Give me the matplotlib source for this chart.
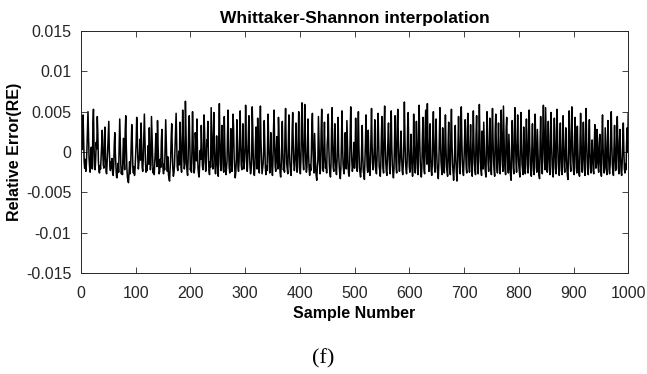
import numpy as np
import matplotlib
matplotlib.use('Agg')
import matplotlib.pyplot as plt

# relative error per sample, in units of 1e-4 (50 samples per row)
re_rows = [
    [10, 3, 18, 46, 14, -12, -20, -9, -24, -16, 2, 28, 50, 19, -8, -19, -25, -3, 6, -14, -21, 35, 53, 8, -18, -22, -10, 12, 4, 44, 22, -11, -23, -26, -17, -21, -7, 9, 27, 0, -16, -20, 14, 31, -5, -24, -27, -13, 3, 20],
    [38, 1, -17, -23, -12, -20, -8, -26, -29, -18, 9, 24, -2, -15, -30, -32, -22, -14, -25, 5, 41, 13, -16, -27, -20, -28, 0, 17, -9, -22, 26, 45, 7, -19, -31, -36, -38, -24, -12, -27, -15, 8, 34, 11, -20, -26, -18, -29, -21, -6],
    [12, 43, 25, -7, -21, -13, -3, 16, -10, 36, 6, -19, -24, -8, 21, 47, 15, -12, -25, -18, -23, -4, 8, -15, 30, -6, -22, -16, 44, 19, -9, -26, -20, -28, -14, 2, 23, -8, -18, 39, 10, -13, -27, -24, -9, -19, 13, 28, -2, -20],
    [-27, -15, -22, 7, 40, 11, -14, -24, -6, -28, -33, -36, -21, -10, 18, 35, 3, -20, -30, -26, -17, 4, 22, 48, 12, -18, -23, -11, 1, -16, 37, 15, -19, -25, 8, 52, 20, -9, -21, -14, 63, 29, -13, -24, -29, -7, 31, 45, 10, -22],
    [-18, -25, 6, 50, 17, -14, -26, -19, 24, 12, -11, 41, 3, -20, -27, -31, -15, 2, -9, 33, 9, -17, -22, -13, 46, 26, -6, -24, -18, 15, 8, 38, -4, -23, -28, -12, -19, 55, 24, -8, -21, 18, 49, 5, -17, -27, -10, 20, -8, -24],
    [-30, 22, 60, 13, -15, -23, 10, 33, -1, -20, -25, 44, 7, -18, -28, -21, -11, 25, 52, 4, -19, -26, -14, 29, -3, -24, 16, 47, 30, -6, -20, -32, -25, -10, 40, 13, -18, -24, -12, 23, 51, 9, -16, -22, -2, 35, -5, -21, -12, 7],
    [58, 17, -13, -24, -8, 22, 45, 2, -18, -27, -22, -9, 56, 30, -7, -25, -29, -16, 12, 31, -4, -21, 42, 10, -15, -26, 24, 57, 14, -11, -27, -20, -14, 4, 39, 9, -19, -28, -17, -23, 5, 47, 16, -12, -26, -18, 24, -2, -20, -29],
    [-10, 29, 52, 8, -18, -24, 3, 19, -9, -21, 43, 20, -13, -26, -31, -18, 12, 38, -1, -22, -17, -25, 29, 54, 11, -14, -20, -27, 8, 46, 2, -15, -24, -29, -11, 25, 49, 10, -13, -23, -16, 6, 36, -6, -25, -19, 14, 50, 4, -20],
    [-27, -9, 34, 61, 15, -12, -22, 9, 59, 24, -14, -25, -19, 7, 41, -2, -21, -29, -16, -23, -4, 32, 48, 6, -17, -26, 23, 1, -22, -30, -35, -18, -10, 44, 15, -15, -27, -20, 26, 53, 11, -16, -24, 3, 37, -3, -20, -13, -26, 9],
    [20, 47, 6, -17, -26, -31, -14, 28, 55, 9, -19, -24, 4, 35, -8, -22, -28, -11, 17, 43, -1, -18, -27, -33, -20, 10, 51, 12, -15, -23, -27, -6, 24, 2, -21, 39, 14, -13, -26, -30, -17, 22, 56, 15, -11, -24, -18, -5, 12, -20],
    [-4, 42, 9, -15, -24, 18, 50, 5, -19, -26, -31, -21, 8, 33, -5, -24, -28, -34, -12, 14, 46, 6, -18, -25, 27, -1, -21, -29, -15, 21, 54, 10, -14, -22, -17, 6, 40, -2, -22, -27, -10, 25, 48, 12, -18, -23, -30, -14, 19, 44],
    [3, -19, -26, 30, 57, 13, -12, -24, -29, -9, 15, 36, -4, -22, -27, 23, 51, 7, -16, -25, -32, -21, 9, 45, 3, -20, -26, 34, 53, 18, -14, -24, -12, 5, 26, -6, -23, -28, -17, 12, 62, 19, -10, -22, -27, -13, 31, 49, 5, -18],
    [-25, -11, 22, -2, -21, -30, -14, 47, 11, -16, -26, 2, 38, 4, -20, -28, 27, 58, 16, -12, -24, -31, -18, 18, 43, -3, -22, -27, 29, 52, 9, -15, 60, 17, -13, -24, 7, 35, -7, -23, -29, -16, 24, 50, 8, -17, -25, 13, 41, 2],
    [-19, -27, -33, -14, 20, 55, 12, -12, -22, -28, 30, -1, -21, -26, 8, 46, 6, -18, -24, -30, 11, 37, -5, -23, -28, 25, 53, 12, -15, -26, -35, -20, 4, 33, -8, -24, -36, -22, 9, 44, 5, -19, -27, 21, 56, 14, -13, -24, -29, -9],
    [16, 40, 2, -20, -26, 28, 48, 9, -16, -25, 6, 34, -2, -23, -30, 12, 51, 13, -14, -23, -28, 23, 45, 4, -19, -27, 18, 59, 17, -11, -22, -29, 26, -1, -21, 37, 10, -16, -25, -31, 14, 50, 11, -14, -24, 4, 42, 3, -19, -28],
    [20, 54, 14, -12, -23, -30, 27, 47, 7, -17, -26, 8, 36, -3, -23, -27, 17, 52, 12, -13, -24, 57, 20, -10, -22, -28, 29, 43, 3, -18, -26, 22, -1, -22, -29, -35, 10, 39, 2, -20, -27, 24, 55, 13, -13, -25, 7, 46, 6, -16],
    [-24, -31, 15, 49, 10, -15, -23, -28, 31, -2, -22, -27, 13, 41, 5, -17, -26, 25, 52, 12, -15, -24, -30, 8, 35, -4, -23, -28, 19, 47, 7, -19, -25, 28, 1, -21, -29, -33, 12, 44, 4, -18, -27, 23, 58, 16, -11, -22, 55, 19],
    [-12, -25, 6, 38, -1, -22, -28, 21, 49, 9, -16, -26, -31, 11, 42, 3, -20, -27, 27, 53, 14, -13, -23, -29, 18, 36, -3, -23, -28, 9, 45, 6, -17, -25, 3, 30, -2, -21, -30, -34, 16, 51, 11, -14, -24, 24, 56, 15, -11, -23],
    [-28, 20, 43, 5, -18, -26, 32, 2, -20, -27, -30, 14, 48, 10, -15, -25, 7, 37, -2, -22, -29, 26, 54, 12, -13, -24, -28, 19, 40, 2, -19, -26, -8, 15, -5, -23, -27, 10, 34, -1, -20, -14, 28, 11, -18, -25, 5, 22, -9, -24],
    [-30, 17, 46, 8, -16, -26, -19, 30, 4, -21, -28, 12, 39, 1, -22, -27, -15, 25, 50, 10, -16, -25, -29, 6, 33, -4, -23, -18, 21, 44, 7, -19, -27, 14, 28, -6, -24, -29, -12, 9, 36, 2, -21, -26, -15, -22, 11, 30, 0, 48],
]
x_ticks = [0, 100, 200, 300, 400, 500, 600, 700, 800, 900, 1000]
y_ticks = [-0.015, -0.01, -0.005, 0, 0.005, 0.01, 0.015]
y_ticklabels = ['-0.015', '-0.01', '-0.005', '0', '0.005', '0.01', '0.015']

re = np.array(re_rows, dtype=float).ravel() * 1e-4
samples = np.arange(1, len(re) + 1)

plt.rcParams['font.family'] = ['Liberation Sans', 'DejaVu Sans']
plt.rcParams['axes.unicode_minus'] = False

fig = plt.figure(figsize=(6.47, 3.74), dpi=100, facecolor='white')
ax = fig.add_axes([0.125, 0.27, 0.846, 0.647])

ax.plot(samples, re, color='black', linewidth=1.1)

ax.set_xlim(0, 1000)
ax.set_ylim(-0.015, 0.015)
ax.set_xticks(x_ticks)
ax.set_yticks(y_ticks)
ax.set_yticklabels(y_ticklabels)
ax.tick_params(direction='in', top=True, right=True, length=4, width=0.6,
               labelsize=11.5, colors='#262626')
ax.tick_params(axis='x', pad=9)
ax.tick_params(axis='y', pad=7)
for s in ax.spines.values():
    s.set_color('#262626')
    s.set_linewidth(0.7)

ax.set_title('Whittaker-Shannon interpolation', fontsize=12.5, fontweight='bold', pad=6)
ax.set_xlabel('Sample Number', fontsize=11.5, fontweight='bold', labelpad=4)
ax.set_ylabel('Relative Error(RE)', fontsize=11.5, fontweight='bold', labelpad=3)

fig.text(0.5, 0.04, '(f)', ha='center', va='center', fontsize=16,
         family=['Liberation Serif', 'DejaVu Serif'])

fig.savefig('out.png', dpi=100)
